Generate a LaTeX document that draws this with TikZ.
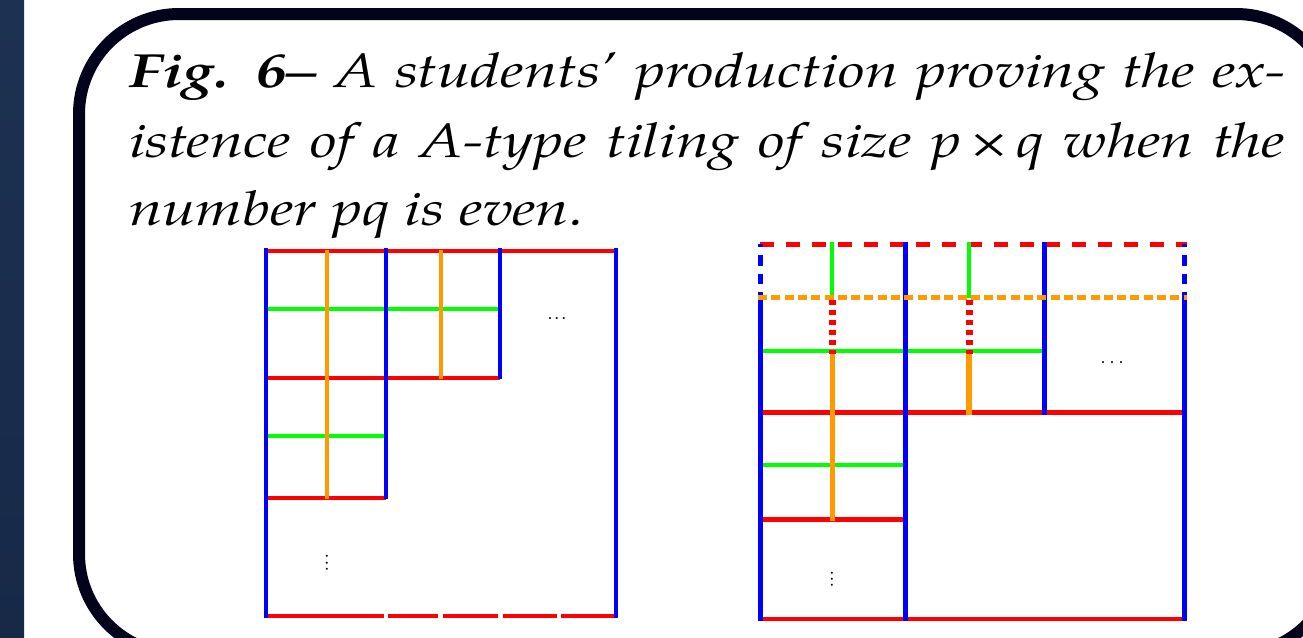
\documentclass[tikz,border=0pt]{standalone}
\usepackage{fontspec}
\setmainfont{texgyrepagella}[Extension=.otf,UprightFont=*-regular,ItalicFont=*-italic,BoldFont=*-bold,BoldItalicFont=*-bolditalic]
\definecolor{strip}{HTML}{1D3152}
\definecolor{stripb}{HTML}{172947}
\definecolor{frame}{HTML}{03041C}
\definecolor{tblue}{HTML}{0000FF}
\definecolor{tred}{HTML}{FF0000}
\definecolor{tgreen}{HTML}{00FF00}
\definecolor{torange}{HTML}{FF9A00}
\newcommand\myhdots[1]{\hbox{\fontsize{18}{18}\selectfont .\kern#1.\kern#1.}}
\newcommand\wide[1]{\scalebox{1.25}[1]{#1}}
\begin{document}
\begin{tikzpicture}[x=1pt,y=-1pt,
  bl/.style={draw=tblue,line width=4pt},
  rd/.style={draw=tred,line width=4pt},
  gr/.style={draw=tgreen,line width=3.6pt},
  og/.style={draw=torange,line width=4.5pt},
  blr/.style={draw=tblue,line width=5pt},
  rdr/.style={draw=tred,line width=4.5pt},
  grr/.style={draw=tgreen,line width=4pt},
  ogr/.style={draw=torange,line width=5.5pt},
  txt/.style={anchor=base west,inner sep=0pt,font=\fontsize{48}{48}\selectfont\itshape},
  dots/.style={inner sep=0pt}]
\useasboundingbox (0,0) rectangle (1303,637);
\clip (0,0) rectangle (1303,637);
\fill[white] (0,0) rectangle (1303,637);
\shade[top color=strip,bottom color=stripb] (0,0) rectangle (24,637);
\draw[frame,line width=12pt,rounded corners=100pt] (79,14) rectangle (1336,654);

% caption
\node[txt] (l1) at (129,87) {\wide{\makebox[924.8pt][s]{\textbf{Fig. 6–} A students’ production proving the ex-}}};
\node[txt] (l2) at (129,157.5) {\wide{\makebox[924.8pt][s]{istence of a A-type tiling of size p\kern7pt×\kern7pt q when the}}};
\node[txt] (l3) at (129,225) {\wide{number pq is even.}};

% ---------- left tiling ----------
\draw[rd] (266,250.5) -- (616,250.5);
\draw[rd] (266,377.5) -- (500,377.5);
\draw[rd] (266,497.5) -- (386,497.5);
\draw[rd] (266,615.5) -- (384,615.5);
\draw[rd] (388,615.5) -- (438,615.5);
\draw[rd] (443,615.5) -- (498,615.5);
\draw[rd] (503,615.5) -- (557,615.5);
\draw[rd] (561,615.5) -- (614,615.5);
\draw[gr] (266,309) -- (500,309);
\draw[gr] (266,436) -- (386,436);
\draw[bl] (266,248) -- (266,617.5);
\draw[bl] (616,248) -- (616,617.5);
\draw[bl] (386,248) -- (386,499);
\draw[bl] (500,248) -- (500,379);
\draw[og] (327,250) -- (327,499);
\draw[og] (441,250) -- (441,379);
\node[dots] (hl) at (557,319) {\myhdots{2.5pt}};
\node[dots,rotate=90] (vl) at (327,563) {\myhdots{2.2pt}};

% ---------- right tiling ----------
\draw[rdr,dash pattern=on 14pt off 12pt,dash phase=24pt] (758,244.3) -- (1187,244.3);
\draw[rdr] (760,412.3) -- (1184,412.3);
\draw[rdr] (760,519.3) -- (905,519.3);
\draw[rdr] (758,619) -- (1187,619);
\draw[grr] (760,351) -- (1044,351);
\draw[grr] (760,465) -- (905,465);
\draw[blr,dash pattern=on 10.5pt off 8pt,dash phase=7.5pt] (760,244) -- (760,298);
\draw[blr,dash pattern=on 10.5pt off 8pt,dash phase=7.5pt] (1184,244) -- (1184,298);
\draw[blr] (760,298) -- (760,621);
\draw[blr] (1184,298) -- (1184,621);
\draw[blr] (905,242) -- (905,621);
\draw[blr] (1044,242) -- (1044,414.5);
\draw[grr] (832.3,242) -- (832.3,298);
\draw[grr] (969,242) -- (969,298);
\draw[ogr] (832.3,351) -- (832.3,521);
\draw[ogr] (969,351) -- (969,414.5);
\draw[draw=torange,line width=5.5pt,dash pattern=on 9pt off 4.3pt] (758,297.7) -- (1187,297.7);
\draw[draw=tred,line width=7pt,dash pattern=on 5pt off 5pt] (832.3,300) -- (832.3,354);
\draw[draw=tred,line width=7pt,dash pattern=on 5pt off 5pt] (969,300) -- (969,354);
\node[dots] (hr) at (1112,363) {\myhdots{4.5pt}};
\node[dots,rotate=90] (vr) at (832,579) {\myhdots{1.5pt}};
\end{tikzpicture}
\end{document}
